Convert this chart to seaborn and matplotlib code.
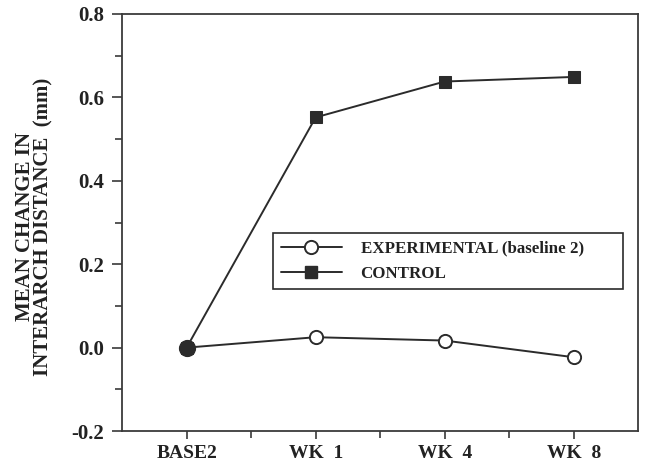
import matplotlib
matplotlib.use("Agg")
import matplotlib.pyplot as plt
from matplotlib.lines import Line2D
from matplotlib.ticker import MultipleLocator, FixedLocator
import seaborn as sns
import pandas as pd

# Time points and mean change in interarch distance (mm)
timepoints = ["BASE2", "WK  1", "WK  4", "WK  8"]
experimental = [0.0, 0.025, 0.017, -0.023]
control = [0.0, 0.552, 0.638, 0.649]
series_names = ["EXPERIMENTAL (baseline 2)", "CONTROL"]

sns.set_theme(style="ticks")
plt.rcParams["font.family"] = ["Liberation Serif", "DejaVu Serif"]
plt.rcParams["font.weight"] = "bold"

df = pd.DataFrame({
    "pos": list(range(len(timepoints))) * 2,
    "value": experimental + control,
    "group": [series_names[0]] * len(timepoints) + [series_names[1]] * len(timepoints),
})

ink = "#2b2b2b"
fig, ax = plt.subplots(figsize=(6.46, 4.65), dpi=100)
fig.subplots_adjust(left=0.189, right=0.988, top=0.970, bottom=0.073)

exp_df = df[df["group"] == series_names[0]]
ctl_df = df[df["group"] == series_names[1]]

sns.lineplot(data=ctl_df, x="pos", y="value", ax=ax, color=ink, lw=1.4,
             marker="s", markersize=8, markerfacecolor=ink,
             markeredgecolor=ink, legend=False, zorder=3)
sns.lineplot(data=exp_df, x="pos", y="value", ax=ax, color=ink, lw=1.4,
             marker="o", markersize=9.5, markerfacecolor="white",
             markeredgecolor=ink, markeredgewidth=1.4, legend=False, zorder=4)
# shared baseline point
base = exp_df[exp_df["pos"] == 0]
sns.scatterplot(data=base, x="pos", y="value", ax=ax, s=130, color=ink,
                edgecolor=ink, linewidth=1.0, zorder=5, legend=False)

ax.set_xlim(-0.5, 3.5)
ax.set_ylim(-0.2, 0.8)
ax.xaxis.set_major_locator(FixedLocator(range(len(timepoints))))
ax.set_xticklabels(timepoints)
ax.xaxis.set_minor_locator(FixedLocator([0.5, 1.5, 2.5]))
ax.yaxis.set_major_locator(MultipleLocator(0.2))
ax.yaxis.set_minor_locator(MultipleLocator(0.1))
ax.set_yticklabels([f"{v:.1f}" for v in ax.get_yticks()])

for s in ax.spines.values():
    s.set_color("#3a3a3a")
    s.set_linewidth(1.3)

ax.tick_params(axis="both", which="major", direction="out", length=7,
               width=1.2, color="#3a3a3a", pad=6)
ax.tick_params(axis="both", which="minor", direction="out", length=5,
               width=1.2, color="#3a3a3a")
ax.tick_params(axis="x", which="major", length=6, pad=4, labelsize=14)
ax.tick_params(axis="y", which="major", labelsize=15)
for lab in ax.get_xticklabels() + ax.get_yticklabels():
    lab.set_fontweight("bold")
    lab.set_color("#222222")

ax.set_xlabel("")
ax.set_ylabel("MEAN CHANGE IN\nINTERARCH DISTANCE  (mm)", fontsize=15,
              fontweight="bold", color="#222222", linespacing=0.9)
ax.yaxis.set_label_coords(-0.132, 0.49)

handles = [
    Line2D([], [], color=ink, lw=1.4, marker="o", markersize=9.5,
           markerfacecolor="white", markeredgecolor=ink, markeredgewidth=1.4),
    Line2D([], [], color=ink, lw=1.4, marker="s", markersize=8,
           markerfacecolor=ink, markeredgecolor=ink),
]
leg = ax.legend(handles, series_names, loc="upper left",
                bbox_to_anchor=(0.293, 0.333, 0.678, 0.142), mode="expand",
                frameon=True, fancybox=False, edgecolor="#2b2b2b",
                framealpha=1, handlelength=3.6, handletextpad=1.1,
                borderpad=0.45, labelspacing=0.55, borderaxespad=0,
                prop={"family": ["Liberation Serif"], "weight": "bold", "size": 12.2})
leg.get_frame().set_linewidth(1.2)
for t in leg.get_texts():
    t.set_color("#222222")

fig.savefig("out.png", dpi=100)
